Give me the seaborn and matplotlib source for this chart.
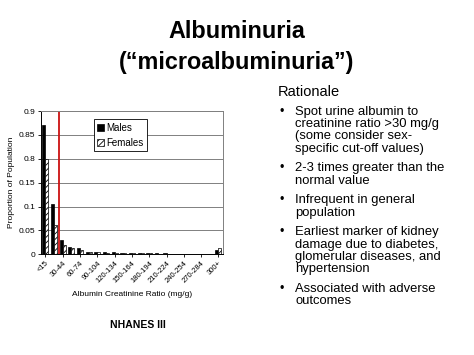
import numpy as np
import pandas as pd
import matplotlib
matplotlib.use("Agg")
import matplotlib.pyplot as plt
import seaborn as sns

categories = ['<15', '15-29', '30-44', '45-59', '60-74', '75-89', '90-104', '105-119',
              '120-134', '135-149', '150-164', '165-179', '180-194', '195-209',
              '210-224', '225-239', '240-254', '255-269', '270-284', '285-299', '300+']
males = [0.87, 0.105, 0.030, 0.015, 0.014, 0.005, 0.005, 0.004, 0.004, 0.003, 0.003,
         0.002, 0.002, 0.002, 0.002, 0.001, 0.001, 0.001, 0.0005, 0.0005, 0.010]
females = [0.795, 0.061, 0.019, 0.013, 0.009, 0.004, 0.004, 0.003, 0.003, 0.002, 0.002,
           0.002, 0.002, 0.001, 0.001, 0.001, 0.001, 0.0005, 0.0005, 0.0005, 0.013]
ytick_vals = [0, 0.05, 0.1, 0.15, 0.8, 0.85, 0.9]
ytick_labels = ['0', '0.05', '0.1', '0.15', '0.8', '0.85', '0.9']
cutoff_pos = 1.62  # just below the 30-44 group

title_lines = ['Albuminuria', '(\u201cmicroalbuminuria\u201d)']
bullets = [
    ['Spot urine albumin to', 'creatinine ratio >30 mg/g', '(some consider sex-', 'specific cut-off values)'],
    ['2-3 times greater than the', 'normal value'],
    ['Infrequent in general', 'population'],
    ['Earliest marker of kidney', 'damage due to diabetes,', 'glomerular diseases, and', 'hypertension'],
    ['Associated with adverse', 'outcomes'],
]

df = pd.DataFrame({
    'cat': categories * 2,
    'val': males + females,
    'sex': ['Males'] * len(categories) + ['Females'] * len(categories),
})

sns.set_style("white")
plt.rcParams['font.family'] = ['Liberation Sans', 'DejaVu Sans']
plt.rcParams['text.color'] = 'black'
plt.rcParams['axes.labelcolor'] = 'black'
plt.rcParams['xtick.color'] = 'black'
plt.rcParams['ytick.color'] = 'black'
plt.rcParams['hatch.linewidth'] = 0.6


# broken y axis: 0.15 -> 0.8 squeezed into one tick step
def fwd(v):
    v = np.asarray(v, dtype=float)
    return np.where(v <= 0.15, v, np.where(v >= 0.8, v - 0.6, 0.15 + (v - 0.15) * (0.05 / 0.65)))


def inv(u):
    u = np.asarray(u, dtype=float)
    return np.where(u <= 0.15, u, np.where(u >= 0.2, u + 0.6, 0.15 + (u - 0.15) * (0.65 / 0.05)))


fig = plt.figure(figsize=(4.74, 3.55), dpi=100)
ax = fig.add_axes([0.0865, 0.2837, 0.3835, 0.4033])

sns.barplot(data=df, x='cat', y='val', hue='sex', order=categories,
            palette={'Males': 'black', 'Females': 'white'}, width=0.7,
            edgecolor='black', linewidth=0.5, ax=ax, legend=False)
for bar in ax.containers[1]:
    bar.set_hatch('//////')

ax.set_yscale('function', functions=(fwd, inv))
ax.set_ylim(0, 0.9)
ax.set_xlim(-0.5, len(categories) - 0.5)
ax.set_yticks(ytick_vals)
ax.set_yticklabels(ytick_labels, fontsize=6)
ax.set_xticks(range(0, len(categories), 2))
ax.set_xticklabels(categories[::2], rotation=45, ha='right', rotation_mode='anchor', fontsize=5.5)
ax.tick_params(axis='both', length=2.5, width=0.6, pad=1.5)
ax.tick_params(axis='x', bottom=True)
ax.tick_params(axis='y', left=True)
ax.yaxis.grid(True, color='#808080', linewidth=0.7)
ax.set_axisbelow(True)
ax.spines['left'].set_color('black')
ax.spines['bottom'].set_color('black')
ax.spines['top'].set_color('#808080')
ax.spines['right'].set_color('#808080')
for s in ax.spines.values():
    s.set_linewidth(0.7)

ax.axvline(cutoff_pos, color='#cc1111', linewidth=1.3)

ax.set_xlabel('Albumin Creatinine Ratio (mg/g)', fontsize=6, labelpad=5)
ax.set_ylabel('Proportion of Population', fontsize=6, labelpad=3)

leg = ax.legend(handles=[ax.containers[0][0], ax.containers[1][0]], labels=['Males', 'Females'],
                loc='upper left', bbox_to_anchor=(0.29, 0.944), borderaxespad=0, fontsize=7,
                frameon=True, fancybox=False, edgecolor='black', framealpha=1, borderpad=0.35,
                handlelength=0.7, handleheight=0.7, handletextpad=0.25, labelspacing=0.55)
leg.get_frame().set_linewidth(0.6)

fig.text(0.29, 1 - 325 / 355, 'NHANES III', fontsize=7.5, fontweight='bold', ha='center', va='center')

fig.text(0.5, 1 - 31 / 355, title_lines[0], fontsize=16.8, fontweight='bold', ha='center', va='center')
fig.text(0.5, 1 - 62 / 355, title_lines[1], fontsize=16.8, fontweight='bold', ha='center', va='center')

fig.text(278 / 474, 1 - 92 / 355, 'Rationale', fontsize=10.5, ha='left', va='center')

y = 111.7
for item in bullets:
    fig.text(280 / 474, 1 - y / 355, '\u2022', fontsize=9, ha='left', va='center')
    for line in item:
        fig.text(295 / 474, 1 - y / 355, line, fontsize=9.4, ha='left', va='center')
        y += 12.3
    y += 7.4

fig.savefig('out.png', dpi=100)
